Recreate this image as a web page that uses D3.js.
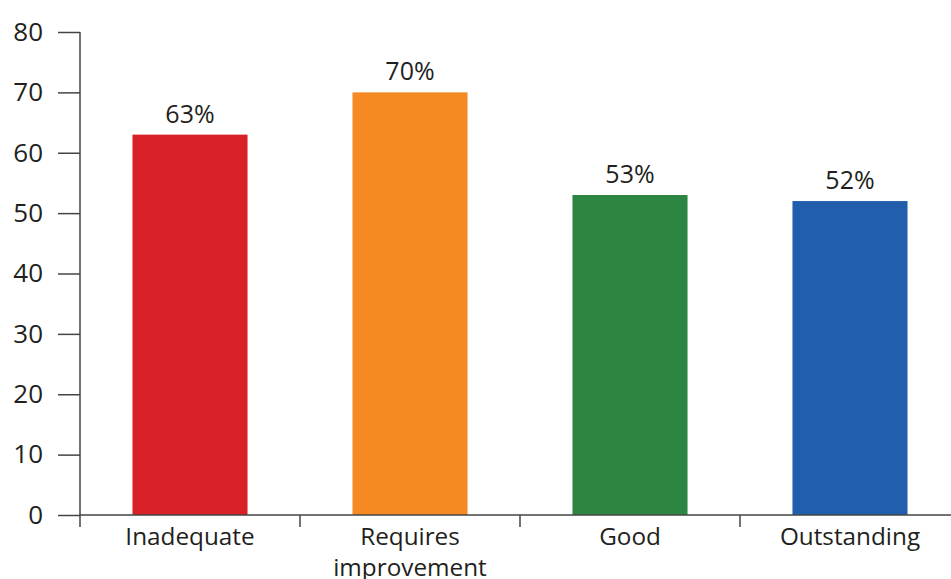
<!DOCTYPE html>
<html>
<head>
<meta charset="utf-8">
<script src="https://cdn.jsdelivr.net/npm/d3@7"></script>
<style>
  html, body { margin: 0; padding: 0; background: #fff; }
  svg { display: block; }
  text { font-family: "Open Sans", "Noto Sans", sans-serif; fill: #231f20; }
</style>
</head>
<body>
<svg id="chart" width="951" height="579"></svg>
<script>
// Share of providers by inspection rating
const categories = ["Inadequate", "Requires improvement", "Good", "Outstanding"];
const values = [63, 70, 53, 52];
const colors = ["#d92128", "#f58a22", "#2c8641", "#215fac"];
const yTicks = [0, 10, 20, 30, 40, 50, 60, 70, 80];

const svg = d3.select("#chart");
const margin = { left: 80, top: 32, right: -9, bottom: 64 };
const width = 951 - margin.left - margin.right;
const height = 579 - margin.top - margin.bottom;

const g = svg.append("g").attr("transform", `translate(${margin.left},${margin.top})`);

const x = d3.scaleBand().domain(categories).range([0, width]).paddingInner(0.477).paddingOuter(0.2385);
const y = d3.scaleLinear().domain([0, 80]).range([height, 0]);

// bars
g.selectAll("rect.bar").data(categories).join("rect")
  .attr("class", "bar")
  .attr("x", d => x(d))
  .attr("width", x.bandwidth())
  .attr("y", (d, i) => y(values[i]))
  .attr("height", (d, i) => y(0) - y(values[i]))
  .attr("fill", (d, i) => colors[i]);

// value labels
g.selectAll("text.val").data(categories).join("text")
  .attr("class", "val")
  .attr("x", d => x(d) + x.bandwidth() / 2)
  .attr("y", (d, i) => y(values[i]) - 12)
  .attr("text-anchor", "middle")
  .attr("font-size", 25)
  .text((d, i) => values[i] + "%");

// y axis
const yAxis = g.append("g")
  .call(d3.axisLeft(y).tickValues(yTicks).tickSize(22).tickPadding(15).tickFormat(d3.format("d")));
yAxis.select(".domain").attr("d", `M0,${y(80)}V${height + 12}`);
yAxis.selectAll("line").attr("stroke", "#444").attr("stroke-width", 1.5);
yAxis.select(".domain").attr("stroke", "#444").attr("stroke-width", 1.5);
yAxis.selectAll("text").attr("font-size", 26).style("font-family", '"Open Sans", "Noto Sans", sans-serif').attr("fill", "#231f20");

// x axis: tick marks sit on band boundaries
const xg = g.append("g").attr("transform", `translate(0,${height})`);
xg.append("line").attr("x1", 0).attr("x2", width).attr("y1", 0).attr("y2", 0)
  .attr("stroke", "#444").attr("stroke-width", 1.5);
const step = x.step();
xg.selectAll("line.sep").data(categories.slice(1)).join("line")
  .attr("class", "sep")
  .attr("x1", d => x(d) - (step - x.bandwidth()) / 2)
  .attr("x2", d => x(d) - (step - x.bandwidth()) / 2)
  .attr("y1", 0).attr("y2", 12)
  .attr("stroke", "#444").attr("stroke-width", 1.5);

const labelLines = {
  "Inadequate": ["Inadequate"],
  "Requires improvement": ["Requires", "improvement"],
  "Good": ["Good"],
  "Outstanding": ["Outstanding"]
};
xg.selectAll("text.cat").data(categories).join("text")
  .attr("class", "cat")
  .attr("text-anchor", "middle")
  .attr("font-size", 24.3)
  .attr("transform", d => `translate(${x(d) + x.bandwidth() / 2},30)`)
  .each(function (d) {
    d3.select(this).selectAll("tspan").data(labelLines[d]).join("tspan")
      .attr("x", 0)
      .attr("dy", (t, i) => i === 0 ? 0 : 31)
      .text(t => t);
  });
</script>
</body>
</html>
